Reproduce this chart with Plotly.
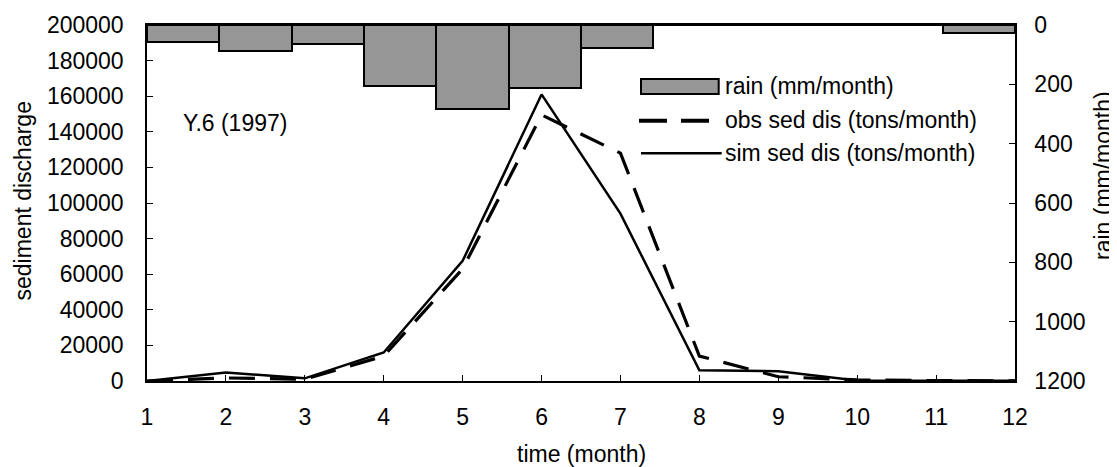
import plotly.graph_objects as go

months = list(range(1, 13))
rain = [58, 87, 65, 205, 282, 211, 79, 0, 0, 0, 0, 26]
obs_sed = [0, 1700, 1000, 14000, 63000, 149500, 128000, 14000, 2400, 600, 200, 100]
sim_sed = [0, 4800, 1500, 16000, 67500, 161000, 94000, 6000, 5500, 300, 200, 200]
left_ticks = [0, 20000, 40000, 60000, 80000, 100000, 120000, 140000, 160000, 180000, 200000]
right_ticks = [0, 200, 400, 600, 800, 1000, 1200]

# page body has an 8px margin; compensate so the plot lands at the reference pixels
OFF = 8
W, H = 1117 - OFF, 467 - OFF
L, R, T, B = 147, 1015, 25, 381   # plot area in reference pixels
FONT = "Liberation Sans, Arial, sans-serif"
FS = 23

def px(x):
    return (x - L) / (R - L)

def py(y):
    return (B - y) / (B - T)

fig = go.Figure()

fig.add_trace(go.Bar(
    x=[m - 1 for m in months], y=rain, xaxis="x2", yaxis="y2",
    marker=dict(color="#969696", line=dict(color="black", width=2)),
    name="rain (mm/month)", showlegend=False,
))
fig.add_trace(go.Scatter(
    x=months, y=obs_sed, mode="lines",
    line=dict(color="black", width=3.2, dash="26px,15px"),
    name="obs sed dis (tons/month)", showlegend=False,
))
fig.add_trace(go.Scatter(
    x=months, y=sim_sed, mode="lines",
    line=dict(color="black", width=2.5),
    name="sim sed dis (tons/month)", showlegend=False,
))

axis_common = dict(showgrid=False, zeroline=False, showline=True, linecolor="black",
                   linewidth=1.5, ticks="inside", ticklen=6, tickcolor="black",
                   automargin=False,
                   tickfont=dict(family=FONT, size=FS, color="black"))

fig.update_layout(
    width=W, height=H,
    margin=dict(l=L - OFF, r=W - (R - OFF), t=T - OFF, b=H - (B - OFF)),
    plot_bgcolor="white", paper_bgcolor="white",
    bargap=0,
    showlegend=False,
    xaxis=dict(range=[1, 12], tickvals=months, mirror=True, ticklabelstandoff=15, **axis_common),
    yaxis=dict(range=[0, 200000], tickvals=left_ticks, tickformat="d", ticklabelstandoff=17,
               **axis_common),
    xaxis2=dict(overlaying="x", range=[-0.5, 11.5], visible=False, automargin=False),
    yaxis2=dict(overlaying="y", side="right", range=[1200, 0], tickvals=right_ticks,
                ticklabelstandoff=13, **axis_common),
)

ann_font = dict(family=FONT, size=FS, color="black")
annotations = [
    dict(text="sediment discharge", x=22, y=201.5, textangle=-90),
    dict(text="rain (mm/month)", x=1103, y=176, textangle=-90),
    dict(text="time (month)", x=581, y=454, textangle=0),
]
for a in annotations:
    fig.add_annotation(text=a["text"], xref="paper", yref="paper",
                       x=px(a["x"]), y=py(a["y"]), xanchor="center", yanchor="middle",
                       textangle=a["textangle"], showarrow=False, font=ann_font)

fig.add_annotation(text="Y.6 (1997)", xref="paper", yref="paper", x=px(181), y=py(123),
                   xanchor="left", yanchor="middle", showarrow=False, font=ann_font)

# legend (custom)
fig.add_shape(type="rect", xref="paper", yref="paper", x0=px(641), x1=px(718.7),
              y0=py(94), y1=py(79), fillcolor="#969696", line=dict(color="black", width=2))
fig.add_shape(type="line", xref="paper", yref="paper", x0=px(639), x1=px(710),
              y0=py(120.7), y1=py(120.7), line=dict(color="black", width=4, dash="28px,14px"))
fig.add_shape(type="line", xref="paper", yref="paper", x0=px(641), x1=px(721.7),
              y0=py(153.3), y1=py(153.3), line=dict(color="black", width=2.5))
for txt, yy in [("rain (mm/month)", 86), ("obs sed dis (tons/month)", 120),
                ("sim sed dis (tons/month)", 153)]:
    fig.add_annotation(text=txt, xref="paper", yref="paper", x=px(723), y=py(yy),
                       xanchor="left", yanchor="middle", showarrow=False, font=ann_font)

fig.write_html("out.html")
